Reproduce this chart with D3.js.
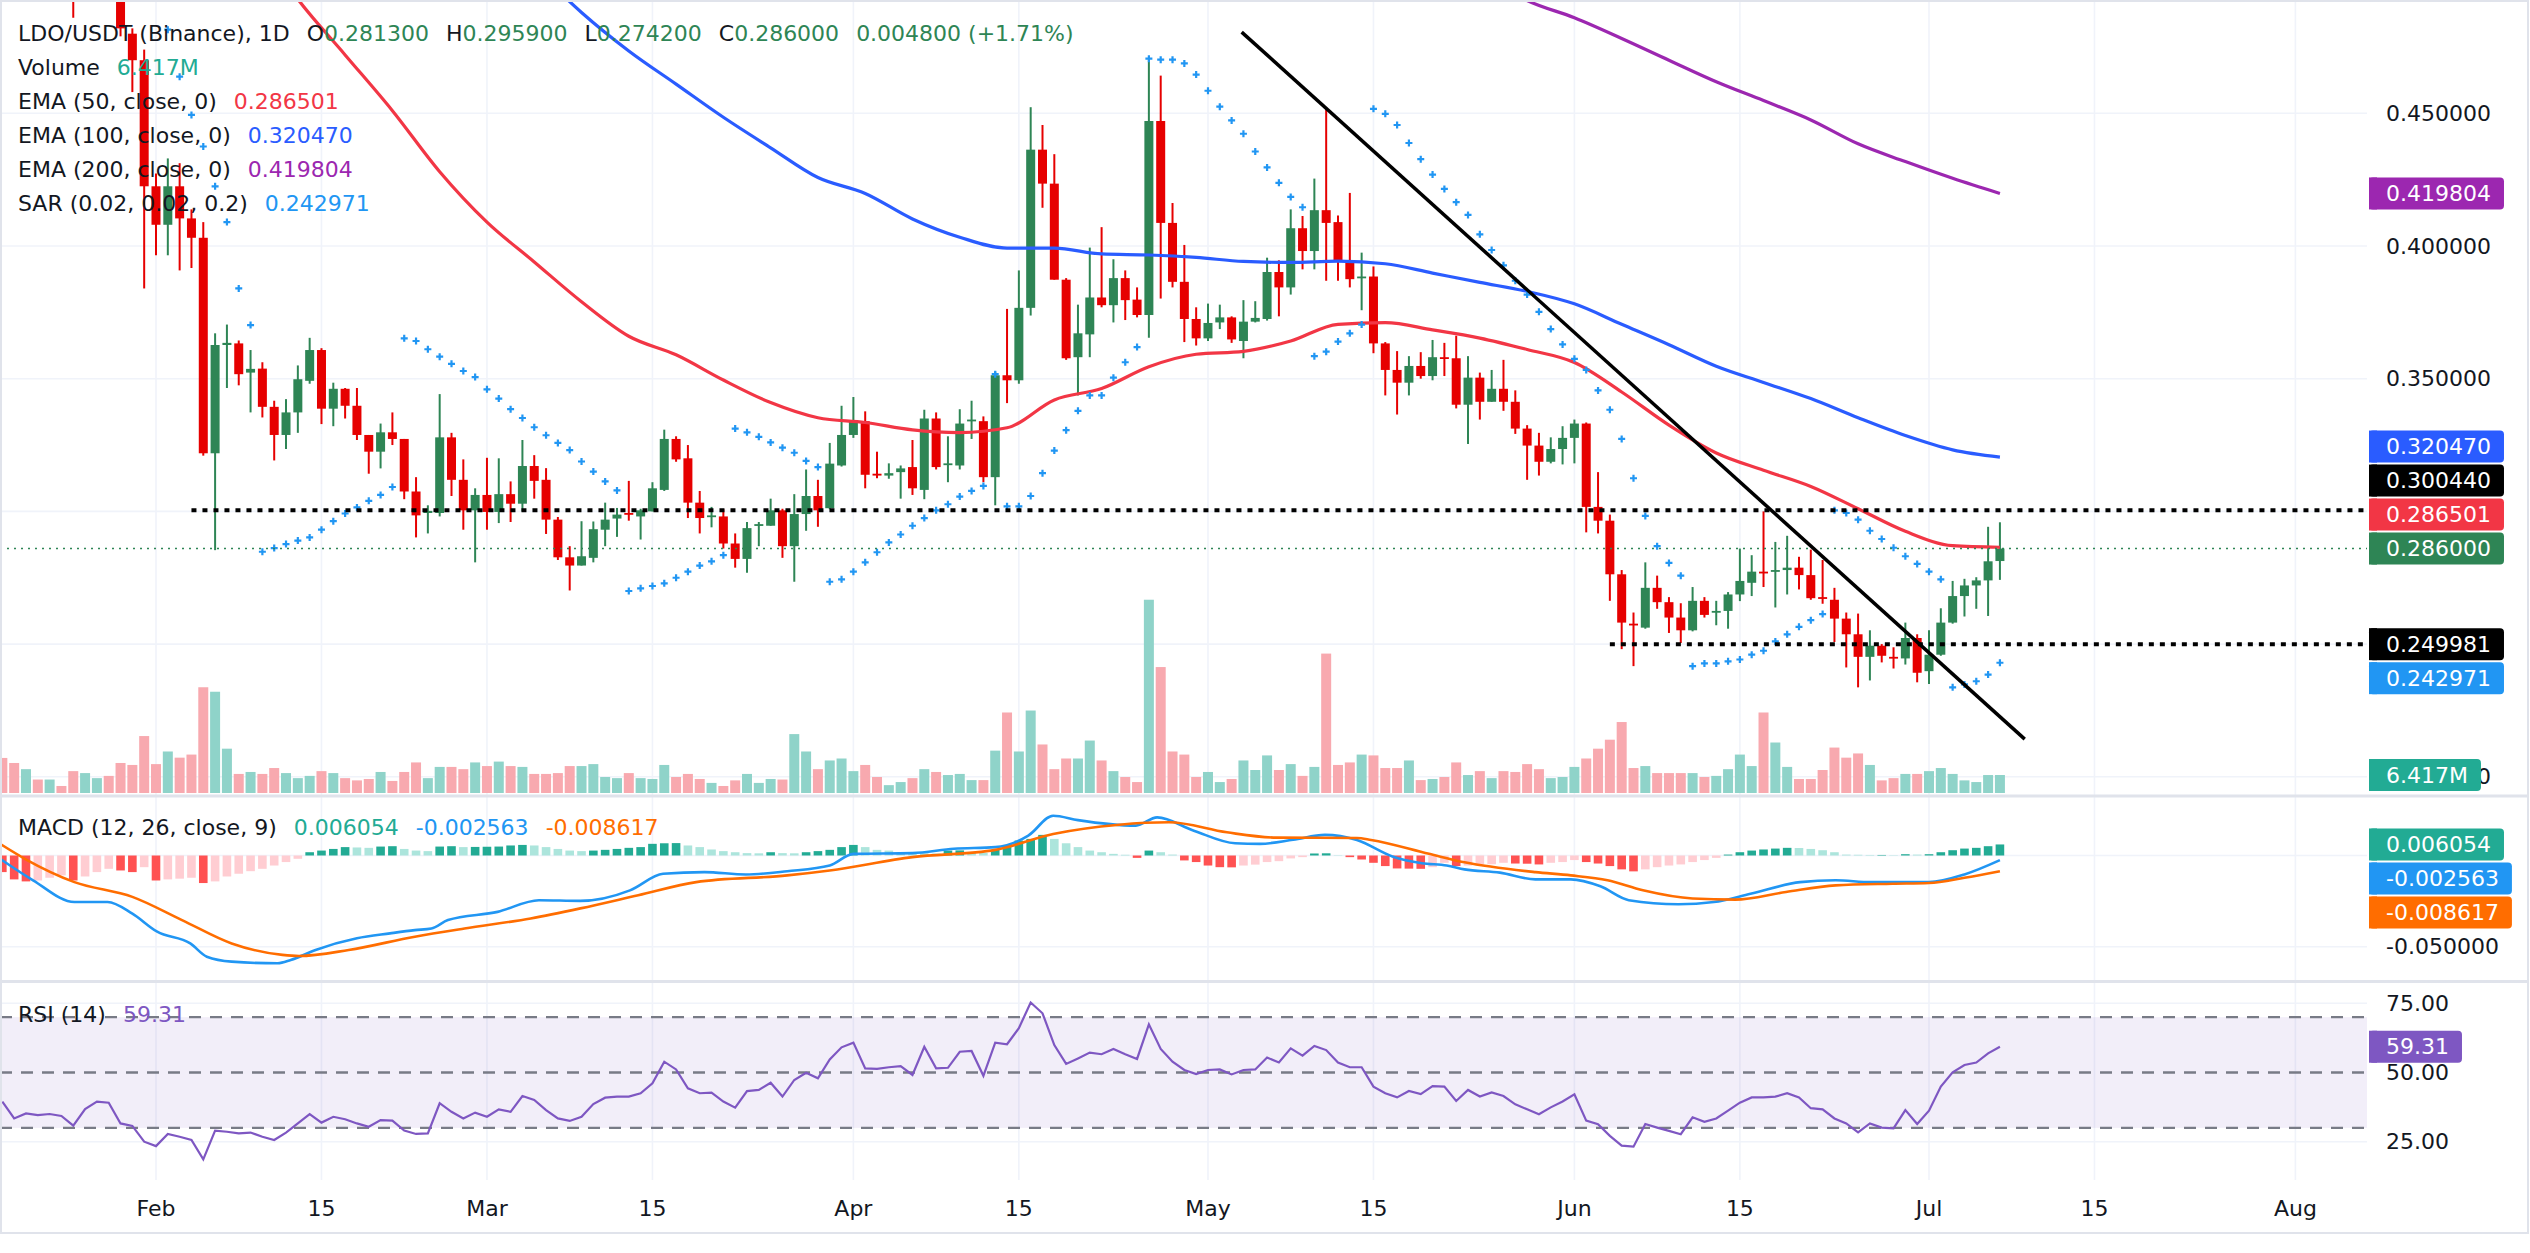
<!DOCTYPE html>
<html>
<head>
<meta charset="utf-8">
<script src="https://cdn.jsdelivr.net/npm/d3@7"></script>
<style>
  html, body { margin: 0; padding: 0; background: #ffffff; }
  svg { display: block; font-family: "DejaVu Sans", sans-serif; }
</style>
</head>
<body>
<svg id="chart" width="2530" height="1253"></svg>
<script>
// daily bars start on Jan 19, one value per day up to Jul 7
var firstBar = "2025-01-19";

var opens = [0.560,0.544,0.526,0.535,0.524,0.530,0.518,0.500,0.510,0.516,0.502,0.480,0.470,
  0.4225,0.408,0.4225,0.4104,0.4031,0.3219,0.3627,0.3633,0.3523,0.3538,
  0.3394,0.3288,0.3373,0.3492,0.3608,0.3387,0.3462,0.3398,0.3288,0.3225,
  0.3298,0.3273,0.3075,0.2994,0.2994,0.3279,0.3119,0.3004,0.3062,0.2998,
  0.3065,0.3029,0.3171,0.3119,0.2969,0.2827,0.2796,0.2825,0.2931,0.2973,
  0.2994,0.2981,0.3000,0.3081,0.3273,0.3200,0.3033,0.2979,0.2981,0.2879,
  0.2821,0.2946,0.2946,0.3004,0.2869,0.2990,0.3058,0.3012,0.3173,0.3288,
  0.3340,0.3142,0.3135,0.3148,0.3167,0.3081,0.3350,0.3175,0.3173,0.3340,
  0.3340,0.3129,0.3513,0.3494,0.3767,0.4363,0.4235,0.3873,0.3581,0.3667,
  0.3806,0.3777,0.3879,0.3798,0.3740,0.4471,0.4087,0.3865,0.3725,0.3652,
  0.3712,0.3731,0.3642,0.3715,0.3725,0.3902,0.3844,0.4067,0.3981,0.4135,
  0.4090,0.3942,0.3879,0.3885,0.3633,0.3533,0.3485,0.3548,0.3510,0.3581,
  0.3577,0.3402,0.3504,0.3413,0.3462,0.3413,0.3312,0.3248,0.3187,0.3235,
  0.3277,0.3331,0.3017,0.2965,0.2763,0.2577,0.2562,0.2712,0.2658,0.2600,
  0.2552,0.2663,0.2619,0.2625,0.2687,0.2731,0.2773,0.2773,0.2779,0.2788,
  0.2760,0.2677,0.2667,0.2596,0.2537,0.2452,0.2494,0.2452,0.2446,0.2523,
  0.2398,0.2460,0.2581,0.2681,0.2721,0.2740,0.2813];

var highs = [0.566,0.548,0.541,0.538,0.534,0.532,0.522,0.515,0.522,0.519,0.506,0.482,0.474,
  0.4273,0.4330,0.4312,0.4138,0.4090,0.3671,0.3704,0.3644,0.3608,0.3562,
  0.3417,0.3423,0.3550,0.3654,0.3615,0.3485,0.3465,0.3465,0.3288,0.3331,
  0.3373,0.3273,0.3129,0.3023,0.3442,0.3296,0.3196,0.3087,0.3202,0.3200,
  0.3113,0.3269,0.3212,0.3163,0.2979,0.2869,0.2963,0.2962,0.3033,0.3013,
  0.3115,0.3010,0.3110,0.3308,0.3283,0.3250,0.3077,0.3017,0.3008,0.2917,
  0.2960,0.2960,0.3048,0.3010,0.3065,0.3158,0.3119,0.3258,0.3398,0.3431,
  0.3377,0.3225,0.3181,0.3173,0.3269,0.3383,0.3373,0.3283,0.3385,0.3417,
  0.3358,0.3527,0.3763,0.3908,0.4523,0.4456,0.4346,0.3879,0.3779,0.3994,
  0.4071,0.3950,0.3908,0.3844,0.4700,0.4642,0.4162,0.4004,0.3769,0.3783,
  0.3779,0.3735,0.3796,0.3792,0.3956,0.3946,0.4138,0.4113,0.4254,0.4517,
  0.4115,0.4200,0.3975,0.3923,0.3638,0.3604,0.3585,0.3600,0.3646,0.3635,
  0.3662,0.3585,0.3523,0.3533,0.3571,0.3456,0.3325,0.3296,0.3279,0.3321,
  0.3346,0.3335,0.3148,0.2988,0.2779,0.2619,0.2808,0.2758,0.2677,0.2654,
  0.2715,0.2677,0.2663,0.2696,0.2860,0.2835,0.3000,0.2885,0.2908,0.2829,
  0.2856,0.2817,0.2712,0.2619,0.2615,0.2552,0.2500,0.2488,0.2581,0.2537,
  0.2552,0.2635,0.2738,0.2746,0.2752,0.2942,0.2959];

var lows = [0.538,0.520,0.518,0.521,0.519,0.515,0.486,0.497,0.505,0.498,0.479,0.458,0.384,
  0.3965,0.3965,0.3908,0.3917,0.3210,0.2854,0.3465,0.3475,0.3373,0.3354,
  0.3192,0.3235,0.3296,0.3481,0.3329,0.3321,0.3350,0.3269,0.3142,0.3162,
  0.3250,0.3046,0.2902,0.2917,0.2981,0.3058,0.2931,0.2808,0.2931,0.2956,
  0.2960,0.3000,0.3048,0.2915,0.2817,0.2702,0.2796,0.2808,0.2869,0.2904,
  0.2965,0.2894,0.3000,0.3077,0.3187,0.2975,0.2917,0.2940,0.2860,0.2788,
  0.2769,0.2869,0.2946,0.2825,0.2735,0.2927,0.2942,0.3008,0.3169,0.3277,
  0.3087,0.3125,0.3123,0.3048,0.3062,0.3046,0.3158,0.3110,0.3158,0.3273,
  0.3110,0.3023,0.3408,0.3481,0.3738,0.4144,0.3873,0.3571,0.3437,0.3581,
  0.3769,0.3712,0.3721,0.3731,0.3654,0.3802,0.3844,0.3638,0.3625,0.3642,
  0.3687,0.3635,0.3577,0.3712,0.3719,0.3735,0.3817,0.3912,0.3912,0.3869,
  0.3869,0.3844,0.3758,0.3596,0.3437,0.3365,0.3437,0.3500,0.3494,0.3510,
  0.3388,0.3254,0.3346,0.3413,0.3379,0.3292,0.3119,0.3135,0.3181,0.3177,
  0.3181,0.2921,0.2917,0.2663,0.2481,0.2417,0.2558,0.2633,0.2542,0.2504,
  0.2548,0.2600,0.2571,0.2558,0.2662,0.2681,0.2715,0.2638,0.2687,0.2706,
  0.2667,0.2652,0.2508,0.2412,0.2337,0.2363,0.2431,0.2408,0.2423,0.2356,
  0.2350,0.2456,0.2577,0.2604,0.2633,0.2606,0.2742];

var closes = [0.544,0.526,0.535,0.524,0.530,0.518,0.500,0.510,0.516,0.502,0.482,0.470,0.4225,
  0.4080,0.4225,0.4104,0.4031,0.3219,0.3627,0.3635,0.3517,0.3537,0.3394,
  0.3288,0.3373,0.3498,0.3608,0.3387,0.3462,0.3398,0.3288,0.3225,0.3298,
  0.3273,0.3075,0.2985,0.3002,0.3279,0.3119,0.3004,0.3062,0.2998,0.3065,
  0.3029,0.3171,0.3115,0.2969,0.2827,0.2796,0.2831,0.2933,0.2969,0.2988,
  0.2988,0.3004,0.3087,0.3273,0.3196,0.3033,0.2975,0.2985,0.2879,0.2821,
  0.2937,0.2952,0.3004,0.2869,0.2990,0.3058,0.3004,0.3180,0.3288,0.3340,
  0.3138,0.3135,0.3144,0.3162,0.3087,0.3350,0.3167,0.3181,0.3331,0.3346,
  0.3129,0.3513,0.3494,0.3767,0.4363,0.4235,0.3873,0.3577,0.3671,0.3806,
  0.3777,0.3879,0.3796,0.3740,0.4471,0.4087,0.3865,0.3725,0.3652,0.3710,
  0.3731,0.3648,0.3715,0.3729,0.3902,0.3844,0.4067,0.3981,0.4135,0.4087,
  0.3942,0.3875,0.3885,0.3633,0.3533,0.3485,0.3548,0.3510,0.3581,0.3577,
  0.3402,0.3504,0.3413,0.3462,0.3413,0.3312,0.3248,0.3187,0.3235,0.3277,
  0.3331,0.3017,0.2965,0.2763,0.2581,0.2571,0.2712,0.2658,0.2600,0.2552,
  0.2663,0.2610,0.2625,0.2687,0.2738,0.2773,0.2767,0.2779,0.2788,0.2760,
  0.2673,0.2673,0.2596,0.2537,0.2452,0.2494,0.2456,0.2446,0.2523,0.2392,
  0.2460,0.2581,0.2681,0.2721,0.2740,0.2812,0.2860];

// volume in millions
var volumes = [12.5,10.7,8.5,4.8,4.8,2.5,7.8,7.1,5.3,6.1,10.7,10.0,20.3,
  10.3,14.8,12.6,13.7,37.7,36.1,15.8,6.8,7.5,6.8,
  8.9,7.1,5.3,6.1,7.8,7.1,5.3,4.5,5.0,7.5,
  4.3,7.5,10.9,5.3,9.3,9.3,8.5,10.9,9.6,11.2,
  9.6,9.3,6.8,6.8,7.1,9.6,9.6,10.3,5.7,5.3,
  7.1,5.3,5.0,10.0,5.7,6.8,5.0,3.6,2.5,4.5,
  6.8,3.6,5.0,4.8,21.0,14.8,8.5,11.6,12.3,7.8,
  10.0,5.7,2.8,3.9,5.3,8.5,7.5,6.4,6.8,4.6,
  4.6,15.1,28.7,14.8,29.4,17.3,8.5,12.3,12.3,18.7,
  11.6,7.8,5.7,3.9,68.9,44.9,14.8,13.7,5.7,7.5,
  3.9,5.0,11.6,8.2,13.4,8.2,10.3,6.1,9.3,49.7,
  10.0,10.9,13.7,13.4,8.9,8.9,11.6,4.6,5.0,5.7,
  10.9,6.4,7.8,5.3,7.8,7.5,10.3,8.5,5.3,5.7,
  9.3,12.3,15.8,19.0,25.3,8.9,9.6,7.1,7.1,7.1,
  7.1,5.7,6.1,8.5,13.7,9.6,28.7,18.0,9.3,5.0,
  5.0,8.2,16.2,12.6,14.1,10.0,4.5,5.3,6.8,6.8,
  7.8,8.9,6.8,4.5,3.9,6.4,6.417];

// parabolic SAR, null where the dot sits above the visible range
var sar = [null,null,null,null,null,null,null,null,null,null,null,null,null,null,
  0.4815,0.4638,0.4494,0.4375,0.4225,0.4090,0.3840,0.3702,0.2848,0.2862,
  0.2877,0.2890,0.2902,0.2931,0.2963,0.2992,0.3015,0.3040,0.3062,0.3092,
  0.3652,0.3642,0.3611,0.3583,0.3556,0.3529,0.3506,0.3460,0.3425,0.3385,
  0.3352,0.3317,0.3287,0.3258,0.3231,0.3188,0.3150,0.3113,0.3079,0.2700,
  0.2710,0.2719,0.2729,0.2750,0.2773,0.2796,0.2812,0.2835,0.3312,0.3298,
  0.3281,0.3260,0.3240,0.3221,0.3190,0.3167,0.2735,0.2744,0.2773,0.2808,
  0.2846,0.2883,0.2913,0.2946,0.2975,0.3004,0.3027,0.3056,0.3077,0.3096,
  0.3517,0.3019,0.3019,0.3058,0.3144,0.3229,0.3306,0.3379,0.3437,0.3437,
  0.3504,0.3562,0.3619,0.4706,0.4702,0.4702,0.4688,0.4646,0.4585,0.4525,
  0.4473,0.4423,0.4356,0.4296,0.4238,0.4185,0.4146,0.3585,0.3602,0.3640,
  0.3671,0.3704,0.4517,0.4498,0.4456,0.4388,0.4327,0.4269,0.4215,0.4165,
  0.4117,0.4044,0.3985,0.3927,0.3869,0.3817,0.3752,0.3687,0.3629,0.3575,
  0.3533,0.3456,0.3383,0.3273,0.3125,0.2983,0.2869,0.2806,0.2758,0.2417,
  0.2427,0.2427,0.2435,0.2442,0.2460,0.2475,0.2510,0.2537,0.2565,0.2590,
  0.2613,0.3004,0.2994,0.2969,0.2927,0.2896,0.2863,0.2831,0.2802,0.2773,
  0.2744,0.2337,0.2348,0.2360,0.2385,0.242971];

var rsi = [39.5,33.4,35.2,34.6,35.0,34.3,30.8,36.8,39.5,39.1,31.6,30.7,25.0,
  23.4,27.8,26.8,25.6,18.6,29.0,28.6,28.0,28.3,26.8,
  25.6,28.3,31.6,35.0,31.9,34.0,33.1,31.6,30.4,32.8,
  32.6,29.0,27.8,28.0,38.9,35.8,33.4,35.5,34.0,36.7,
  35.8,41.5,40.1,36.4,33.4,32.5,34.0,38.6,40.9,41.3,
  41.3,42.5,46.1,53.9,51.1,44.3,42.5,42.7,39.5,37.3,
  43.3,43.7,46.3,41.3,47.3,49.9,47.9,54.7,59.1,60.8,
  51.5,51.3,51.9,52.3,49.1,59.3,51.5,51.7,57.5,57.8,
  48.8,60.8,60.2,66.0,75.3,71.4,59.9,53.1,55.1,57.2,
  56.6,58.5,56.6,54.9,67.4,58.5,53.9,50.9,49.4,50.9,
  51.1,49.3,50.9,51.1,55.4,53.6,58.7,56.1,59.6,58.1,
  53.6,51.9,51.9,44.9,42.5,41.0,43.3,42.2,45.1,44.9,
  39.7,43.7,41.3,42.8,41.5,38.5,36.7,34.9,37.4,39.5,
  42.1,32.6,31.3,27.1,23.6,23.2,31.4,30.1,28.9,27.7,
  33.8,32.2,33.4,36.2,39.1,41.0,41.0,41.3,42.5,41.0,
  37.1,36.7,33.4,31.6,28.4,31.6,30.1,29.8,36.4,31.4,
  36.2,44.9,50.1,52.7,53.6,56.9,59.31];

var macdHist = [-0.0091,-0.0131,-0.0142,-0.0137,-0.0122,-0.0109,-0.0137,-0.0115,-0.0091,-0.0073,-0.0082,-0.0091,-0.0064,
  -0.0137,-0.0131,-0.0127,-0.0122,-0.0151,-0.0142,-0.0115,-0.0100,-0.0086,-0.0073,
  -0.0055,-0.0036,-0.0018,0.0018,0.0027,0.0036,0.0046,0.0044,0.0042,0.0049,
  0.0051,0.0036,0.0027,0.0024,0.0049,0.0051,0.0046,0.0047,0.0048,0.0049,
  0.0055,0.0058,0.0055,0.0046,0.0036,0.0027,0.0024,0.0027,0.0031,0.0036,
  0.0042,0.0046,0.0064,0.0067,0.0068,0.0055,0.0046,0.0033,0.0024,0.0018,
  0.0013,0.0012,0.0018,0.0013,0.0012,0.0018,0.0024,0.0031,0.0046,0.0058,
  0.0046,0.0031,0.0027,0.0018,0.0013,0.0012,0.0011,0.0027,0.0028,0.0018,
  0.0015,0.0031,0.0055,0.0082,0.0091,0.0113,0.0091,0.0067,0.0046,0.0027,
  0.0018,0.0009,0.0004,-0.0013,0.0027,0.0018,0.0005,-0.0027,-0.0036,-0.0055,
  -0.0064,-0.0065,-0.0055,-0.0050,-0.0036,-0.0031,-0.0016,-0.0009,0.0011,0.0012,
  0.0002,-0.0009,-0.0022,-0.0040,-0.0058,-0.0071,-0.0072,-0.0073,-0.0064,-0.0040,
  -0.0058,-0.0055,-0.0049,-0.0048,-0.0040,-0.0044,-0.0045,-0.0049,-0.0040,-0.0036,
  -0.0025,-0.0036,-0.0044,-0.0058,-0.0076,-0.0087,-0.0076,-0.0064,-0.0055,-0.0049,
  -0.0036,-0.0025,-0.0013,0.0005,0.0018,0.0027,0.0033,0.0038,0.0042,0.0041,
  0.0036,0.0029,0.0018,0.0005,0.0004,0.0003,0.0003,0.0002,0.0007,0.0005,
  0.0007,0.0018,0.0029,0.0038,0.0042,0.0051,0.006054];

// line samples, days counted from Feb 1
var macdDays = [-13.2,-10.4,-6.9,-4.1,-2,0.1,2.9,4.3,6.4,10.3,11.4,13.5,17,19.8,21.9,23.3,24.7,28.9,32.4,35.9,
  40.1,42.9,46.4,49.9,53.4,57,59,64,67.5,71,73.8,75.9,78,82.9,84.7,87.8,91.3,93.4,96.2,98.9,
  101.6,104.6,107.1,109.2,110.7,113.7,116.7,119.7,122.2,124.6,128.8,131.8,134.9,139.1,142.1,145.1,150,153,156];
var macdLine = [-0.0018,-0.0136,-0.0255,-0.0255,-0.0319,-0.0418,-0.0482,-0.0555,-0.0582,-0.0591,
  -0.0573,-0.0518,-0.0454,-0.0427,-0.0409,-0.0400,-0.0354,-0.0309,-0.0245,-0.0249,
  -0.0191,-0.0100,-0.0091,-0.0104,-0.0086,-0.0055,0.0009,0.0013,0.0037,0.0046,
  0.0109,0.0218,0.0194,0.0164,0.0209,0.0136,0.0067,0.0064,0.0086,0.0113,
  0.0085,-0.0005,-0.0042,-0.0055,-0.0076,-0.0094,-0.0131,-0.0131,-0.0169,-0.0245,
  -0.0267,-0.0255,-0.0210,-0.0146,-0.0136,-0.0146,-0.0146,-0.0104,-0.002563];

var signalDays = [-13.2,-11.1,-6.9,-2,2.2,6.4,10.7,12.1,16.3,21.9,26.1,31.7,35.9,40.8,45.7,53.4,57,64,71,75.9,
  81.5,85.7,90.6,94.8,101.6,102.8,107.7,110.7,116.7,119.7,122.8,125.8,130,133.6,137.9,142.1,146.9,150,153,156];
var signalLine = [0.0064,-0.0018,-0.0146,-0.0227,-0.0354,-0.0482,-0.0545,-0.0551,-0.0518,-0.0445,
  -0.0400,-0.0345,-0.0290,-0.0218,-0.0146,-0.0109,-0.0082,-0.0009,0.0031,0.0118,
  0.0169,0.0182,0.0127,0.0098,0.0096,0.0085,0.0009,-0.0037,-0.0091,-0.0109,
  -0.0136,-0.0191,-0.0236,-0.0242,-0.0200,-0.0164,-0.0155,-0.0151,-0.0122,-0.008617];

var ema50Days = [11,12,16,20,24,28,32,36,40,44,48,52,56,60,64,68,72,76,80,84,88,92,96,100,104,108,112,116,120,124,128,132,136,140,144,148,152,156];
var ema50 = [0.499,0.493,0.472,0.451,0.428,0.409,0.394,0.379,0.366,0.359,0.3495,0.341,0.3353,0.3335,0.3307,0.3297,0.3315,0.342,0.3463,
  0.3545,0.3592,0.3603,0.3642,0.3705,0.3711,0.3684,0.3653,0.3610,0.3561,0.3450,0.3325,0.3220,0.3155,0.3094,0.3010,0.2925,0.2871,0.286501];

var ema100Days = [32,36,40,44,48,52,56,60,64,68,72,76,80,84,88,92,96,100,104,108,112,116,120,124,128,132,136,140,144,148,152,156];
var ema100 = [0.505,0.488,0.4735,0.461,0.4485,0.437,0.4258,0.4198,0.4102,0.4033,0.3992,0.3992,0.3970,0.3966,0.3957,0.3942,
  0.3938,0.3943,0.3933,0.3898,0.3863,0.3829,0.3782,0.3705,0.3628,0.3547,0.3486,0.3425,0.3353,0.3286,0.3232,0.320470];

var ema200Days = [112,116,120,124,128,132,136,140,144,148,152,156];
var ema200 = [0.503,0.4925,0.4860,0.4782,0.4700,0.4619,0.4548,0.4475,0.4385,0.4318,0.4255,0.419804];

// drawings: two dotted levels and a falling trend line
var levels = [0.300440, 0.249981];
var levelStartDays = [3, 123];
var trendDays = [91.85, 158.1];
var trendPrices = [0.4806, 0.2142];

var tickDates = ["2025-02-01","2025-02-15","2025-03-01","2025-03-15","2025-04-01","2025-04-15","2025-05-01",
  "2025-05-15","2025-06-01","2025-06-15","2025-07-01","2025-07-15","2025-08-01"];
var tickLabels = ["Feb","15","Mar","15","Apr","15","May","15","Jun","15","Jul","15","Aug"];
var priceTicks = [0.45, 0.40, 0.35, 0.30, 0.25, 0.20];
var macdTicks = [0, -0.05];
var rsiTicks = [75, 50, 25];
var rsiBands = [70, 50, 30];

// ---------------------------------------------------------------
var svg = d3.select("#chart");
var DAY = 864e5;
var feb1 = Date.UTC(2025, 1, 1);
var start = Date.parse(firstBar);
function dayDate(d) { return new Date(feb1 + d * DAY); }
function barDate(i) { return new Date(start + i * DAY); }

var plotRight = 2367;
var labelX = 2386;
var UP = "#2e8555", DOWN = "#e60000";
var TEXT = "#131722", GRID = "#f0f3fa", SEP = "#e0e3eb";

var x = d3.scaleUtc().domain([dayDate(0), dayDate(150)]).range([156, 1929]);
var yPrice = d3.scaleLinear().domain([0.45, 0.25]).range([113.3, 644.1]);
var yVol = d3.scaleLinear().domain([0, 100]).range([793, 512.5]);
var yMacd = d3.scaleLinear().domain([0, -0.05]).range([855.5, 946.7]);
var yRsi = d3.scaleLinear().domain([75, 25]).range([1003.3, 1141.7]);

svg.append("rect").attr("width", 2530).attr("height", 1253).attr("fill", "#fff");

var defs = svg.append("defs");
function clip(id, y0, y1) {
  defs.append("clipPath").attr("id", id).append("rect")
    .attr("x", 0).attr("y", y0).attr("width", plotRight).attr("height", y1 - y0);
  return "url(#" + id + ")";
}
var clipPrice = clip("cp", 0, 795);
var clipMacd = clip("cm", 798, 980);
var clipRsi = clip("cr", 983, 1180);

// grid
var grid = svg.append("g").attr("stroke", GRID).attr("stroke-width", 1.6);
tickDates.forEach(function (t) {
  var xx = x(new Date(t));
  grid.append("line").attr("x1", xx).attr("x2", xx).attr("y1", 0).attr("y2", 1180);
});
priceTicks.forEach(function (p) {
  grid.append("line").attr("x1", 0).attr("x2", plotRight).attr("y1", yPrice(p)).attr("y2", yPrice(p));
});
macdTicks.forEach(function (m) {
  grid.append("line").attr("x1", 0).attr("x2", plotRight).attr("y1", yMacd(m)).attr("y2", yMacd(m));
});
[75, 25].forEach(function (r) {
  grid.append("line").attr("x1", 0).attr("x2", plotRight).attr("y1", yRsi(r)).attr("y2", yRsi(r));
});

// volume bars
var bars = d3.range(opens.length);
var pricePane = svg.append("g").attr("clip-path", clipPrice);
pricePane.selectAll("rect.vol").data(bars).enter().append("rect")
  .attr("x", function (i) { return x(barDate(i)) - 5; })
  .attr("width", 10)
  .attr("y", function (i) { return yVol(volumes[i]); })
  .attr("height", function (i) { return yVol(0) - yVol(volumes[i]); })
  .attr("fill", function (i) { return closes[i] >= opens[i] ? "#8fd3c9" : "#f8a9af"; });

// candles
var candle = pricePane.selectAll("g.c").data(bars).enter().append("g");
candle.append("line")
  .attr("x1", function (i) { return x(barDate(i)); })
  .attr("x2", function (i) { return x(barDate(i)); })
  .attr("y1", function (i) { return yPrice(highs[i]); })
  .attr("y2", function (i) { return yPrice(lows[i]); })
  .attr("stroke", function (i) { return closes[i] >= opens[i] ? UP : DOWN; })
  .attr("stroke-width", 2);
candle.append("rect")
  .attr("x", function (i) { return x(barDate(i)) - 4.5; })
  .attr("width", 9)
  .attr("y", function (i) { return yPrice(Math.max(opens[i], closes[i])); })
  .attr("height", function (i) { return Math.max(1.8, Math.abs(yPrice(opens[i]) - yPrice(closes[i]))); })
  .attr("fill", function (i) { return closes[i] >= opens[i] ? UP : DOWN; });

// moving averages
function emaPath(days, vals, color) {
  var line = d3.line()
    .x(function (d, k) { return x(dayDate(days[k])); })
    .y(function (d) { return yPrice(d); })
    .curve(d3.curveMonotoneX);
  pricePane.append("path").attr("d", line(vals)).attr("fill", "none")
    .attr("stroke", color).attr("stroke-width", 3.2);
}
emaPath(ema200Days, ema200, "#9c27b0");
emaPath(ema100Days, ema100, "#2a5cff");
emaPath(ema50Days, ema50, "#f23645");

// SAR crosses
pricePane.selectAll("path.sar").data(bars.filter(function (i) { return sar[i] != null; }))
  .enter().append("path")
  .attr("d", function (i) {
    var cx = x(barDate(i)), cy = yPrice(sar[i]);
    return "M" + (cx - 3.5) + "," + cy + "H" + (cx + 3.5) + "M" + cx + "," + (cy - 3.5) + "V" + (cy + 3.5);
  })
  .attr("stroke", "#2196f3").attr("stroke-width", 2.2);

// last close line
var last = opens.length - 1;
pricePane.append("line").attr("x1", 0).attr("x2", plotRight)
  .attr("y1", yPrice(closes[last])).attr("y2", yPrice(closes[last]))
  .attr("stroke", UP).attr("stroke-width", 1.6).attr("stroke-dasharray", "2,5");

// dotted levels and trend line
levels.forEach(function (lv, k) {
  pricePane.append("line").attr("x1", x(dayDate(levelStartDays[k]))).attr("x2", plotRight)
    .attr("y1", yPrice(lv)).attr("y2", yPrice(lv))
    .attr("stroke", "#000").attr("stroke-width", 4).attr("stroke-dasharray", "5,6");
});
pricePane.append("line")
  .attr("x1", x(dayDate(trendDays[0]))).attr("y1", yPrice(trendPrices[0]))
  .attr("x2", x(dayDate(trendDays[1]))).attr("y2", yPrice(trendPrices[1]))
  .attr("stroke", "#000").attr("stroke-width", 3.5);

// MACD pane
var macdPane = svg.append("g").attr("clip-path", clipMacd);
macdPane.selectAll("rect.h").data(bars).enter().append("rect")
  .attr("x", function (i) { return x(barDate(i)) - 4.3; })
  .attr("width", 8.6)
  .attr("y", function (i) { return Math.min(yMacd(0), yMacd(macdHist[i])); })
  .attr("height", function (i) { return Math.abs(yMacd(macdHist[i]) - yMacd(0)); })
  .attr("fill", function (i) {
    var v = macdHist[i];
    var p = i > 0 ? macdHist[i - 1] : v + 0.001;
    if (v >= 0) return v >= p ? "#22ab94" : "#ace5dc";
    return v < p ? "#ff5252" : "#ffcdd2";
  });
function macdPath(days, vals, color) {
  var line = d3.line()
    .x(function (d, k) { return x(dayDate(days[k])); })
    .y(function (d) { return yMacd(d); })
    .curve(d3.curveMonotoneX);
  macdPane.append("path").attr("d", line(vals)).attr("fill", "none")
    .attr("stroke", color).attr("stroke-width", 2.6);
}
macdPath(macdDays, macdLine, "#2196f3");
macdPath(signalDays, signalLine, "#ff6d00");

// RSI pane
var rsiPane = svg.append("g").attr("clip-path", clipRsi);
rsiPane.append("rect").attr("x", 0).attr("width", plotRight)
  .attr("y", yRsi(70)).attr("height", yRsi(30) - yRsi(70))
  .attr("fill", "#7e57c2").attr("fill-opacity", 0.1);
rsiBands.forEach(function (b) {
  rsiPane.append("line").attr("x1", 0).attr("x2", plotRight).attr("y1", yRsi(b)).attr("y2", yRsi(b))
    .attr("stroke", "#787b86").attr("stroke-width", 2.4).attr("stroke-dasharray", "12,9");
});
rsiPane.append("path")
  .attr("d", d3.line().x(function (d, i) { return x(barDate(i)); }).y(function (d) { return yRsi(d); })(rsi))
  .attr("fill", "none").attr("stroke", "#7e57c2").attr("stroke-width", 2.2);

// pane separators and frame
[796, 981.5].forEach(function (y) {
  svg.append("line").attr("x1", 0).attr("x2", 2528).attr("y1", y).attr("y2", y)
    .attr("stroke", SEP).attr("stroke-width", 3);
});
svg.append("rect").attr("x", 1).attr("y", 1).attr("width", 2527).attr("height", 1232)
  .attr("fill", "none").attr("stroke", SEP).attr("stroke-width", 2);

// legends
function legendRow(y, parts) {
  var t = svg.append("text").attr("x", 18).attr("y", y).attr("dominant-baseline", "central")
    .attr("font-size", 22).attr("fill", TEXT);
  parts.forEach(function (p) {
    t.append("tspan").attr("dx", p[2] || 0).attr("fill", p[1] || TEXT).text(p[0]);
  });
}
function fmt(v) { return v.toFixed(6); }
var chg = closes[last] - closes[last - 1];
legendRow(33, [["LDO/USDT (Binance), 1D"], ["O", TEXT, 17], [fmt(opens[last]), UP],
  ["H", TEXT, 17], [fmt(highs[last]), UP], ["L", TEXT, 17], [fmt(lows[last]), UP],
  ["C", TEXT, 17], [fmt(closes[last]), UP],
  [fmt(chg) + " (" + (chg >= 0 ? "+" : "") + (chg / closes[last - 1] * 100).toFixed(2) + "%)", UP, 17]]);
legendRow(67, [["Volume"], [volumes[last].toFixed(3) + "M", "#22ab94", 17]]);
legendRow(101, [["EMA (50, close, 0)"], [fmt(ema50[ema50.length - 1]), "#f23645", 17]]);
legendRow(135, [["EMA (100, close, 0)"], [fmt(ema100[ema100.length - 1]), "#2a5cff", 17]]);
legendRow(169, [["EMA (200, close, 0)"], [fmt(ema200[ema200.length - 1]), "#9c27b0", 17]]);
legendRow(203, [["SAR (0.02, 0.02, 0.2)"], [fmt(sar[last]), "#2196f3", 17]]);
legendRow(827, [["MACD (12, 26, close, 9)"], [fmt(macdHist[last]), "#22ab94", 17],
  [fmt(macdLine[macdLine.length - 1]), "#2196f3", 17], [fmt(signalLine[signalLine.length - 1]), "#ff6d00", 17]]);
legendRow(1014, [["RSI (14)"], [rsi[last].toFixed(2), "#7e57c2", 17]]);

// coloured value labels, stacked so they do not overlap
var BOX_H = 34;
function stack(items, anchored) {
  items.sort(function (a, b) { return a.y - b.y; });
  var a = anchored ? items.findIndex(function (d) { return d.anchor; }) : 0;
  items[a].pos = items[a].y;
  for (var i = a - 1; i >= 0; i--) items[i].pos = Math.min(items[i].y, items[i + 1].pos - BOX_H);
  for (var j = a + 1; j < items.length; j++) items[j].pos = Math.max(items[j].y, items[j - 1].pos + BOX_H);
  return items;
}
var boxes = [].concat(
  stack([{ y: yPrice(ema200[ema200.length - 1]), text: fmt(ema200[ema200.length - 1]), color: "#9c27b0" }]),
  stack([
    { y: yPrice(ema100[ema100.length - 1]), text: fmt(ema100[ema100.length - 1]), color: "#2a5cff" },
    { y: yPrice(levels[0]), text: fmt(levels[0]), color: "#000" },
    { y: yPrice(ema50[ema50.length - 1]), text: fmt(ema50[ema50.length - 1]), color: "#f23645" },
    { y: yPrice(closes[last]), text: fmt(closes[last]), color: UP, anchor: true }
  ], true),
  stack([
    { y: yPrice(levels[1]), text: fmt(levels[1]), color: "#000" },
    { y: yPrice(sar[last]), text: fmt(sar[last]), color: "#2196f3" }
  ]),
  stack([{ y: yVol(volumes[last]), text: volumes[last].toFixed(3) + "M", color: "#22ab94" }]),
  stack([
    { y: yMacd(macdHist[last]), text: fmt(macdHist[last]), color: "#22ab94" },
    { y: yMacd(macdLine[macdLine.length - 1]), text: fmt(macdLine[macdLine.length - 1]), color: "#2196f3" },
    { y: yMacd(signalLine[signalLine.length - 1]), text: fmt(signalLine[signalLine.length - 1]), color: "#ff6d00" }
  ]),
  stack([{ y: yRsi(rsi[last]), text: rsi[last].toFixed(2), color: "#7e57c2" }])
);

// right axis tick labels; a tick fully hidden under a value label is left out
var axis = svg.append("g").attr("font-size", 22).attr("fill", TEXT).attr("dominant-baseline", "central");
function tick(y, label) {
  var hidden = boxes.some(function (b) { return Math.abs(b.pos - y) < 12 && b.text.length >= label.length; });
  if (!hidden) axis.append("text").attr("x", labelX).attr("y", y).text(label);
}
priceTicks.forEach(function (p) { tick(yPrice(p), p.toFixed(6)); });
macdTicks.forEach(function (m) { tick(yMacd(m), m.toFixed(6)); });
rsiTicks.forEach(function (r) { tick(yRsi(r), r.toFixed(2)); });

boxes.forEach(function (item) {
  var g = svg.append("g");
  var t = g.append("text").attr("x", labelX).attr("y", item.pos).attr("dominant-baseline", "central")
    .attr("font-size", 22).attr("fill", "#fff").text(item.text);
  var w = t.node().getComputedTextLength() + 30;
  g.insert("rect", "text").attr("x", 2369).attr("y", item.pos - BOX_H / 2 + 1)
    .attr("width", w).attr("height", BOX_H - 2).attr("rx", 4).attr("fill", item.color);
  g.insert("rect", "text").attr("x", 2369).attr("y", item.pos - BOX_H / 2 + 1)
    .attr("width", 8).attr("height", BOX_H - 2).attr("fill", item.color);
});

// time axis
var timeAxis = svg.append("g").attr("font-size", 22).attr("fill", TEXT)
  .attr("text-anchor", "middle").attr("dominant-baseline", "central");
tickDates.forEach(function (t, k) {
  timeAxis.append("text").attr("x", x(new Date(t))).attr("y", 1208).text(tickLabels[k]);
});
</script>
</body>
</html>
